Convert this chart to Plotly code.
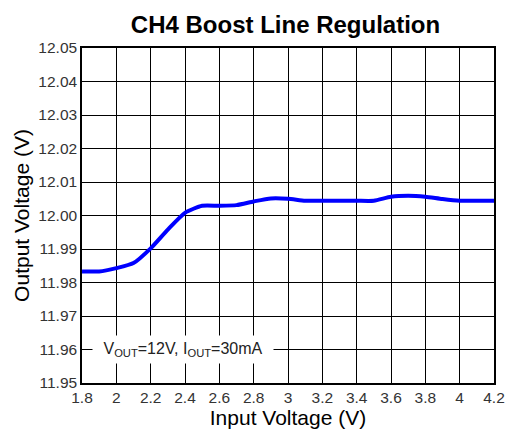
import plotly.graph_objects as go

vin = [1.8, 1.9, 2.0, 2.1, 2.2, 2.3, 2.4, 2.5, 2.6, 2.7, 2.8, 2.9, 3.0, 3.1, 3.2, 3.3, 3.4, 3.5, 3.6, 3.7, 3.8, 3.9, 4.0, 4.1, 4.2]
vout = [11.9833, 11.9833, 11.9843, 11.9858, 11.9902, 11.9958, 12.0008, 12.0029, 12.0029, 12.0031, 12.0042, 12.0051, 12.0050, 12.0044, 12.0044, 12.0044, 12.0044, 12.0044, 12.0056, 12.0059, 12.0056, 12.0049, 12.0044, 12.0044, 12.0044]

x_ticks = [1.8, 2.0, 2.2, 2.4, 2.6, 2.8, 3.0, 3.2, 3.4, 3.6, 3.8, 4.0, 4.2]
x_ticktext = ["1.8", "2", "2.2", "2.4", "2.6", "2.8", "3", "3.2", "3.4", "3.6", "3.8", "4", "4.2"]
y_ticks = [11.95, 11.96, 11.97, 11.98, 11.99, 12.00, 12.01, 12.02, 12.03, 12.04, 12.05]
y_ticktext = ["11.95", "11.96", "11.97", "11.98", "11.99", "12.00", "12.01", "12.02", "12.03", "12.04", "12.05"]

font = "Liberation Sans, Arial, sans-serif"

fig = go.Figure()
fig.add_trace(go.Scatter(x=vin, y=vout, mode="lines",
                         line=dict(color="#0000ff", width=4, shape="spline", smoothing=0.6),
                         showlegend=False, hoverinfo="skip"))

fig.add_annotation(x=2.39, y=11.96, xref="x", yref="y",
                   text="V<sub>OUT</sub>=12V, I<sub>OUT</sub>=30mA",
                   showarrow=False, bgcolor="white", borderpad=4,
                   width=172, height=19, align="center",
                   font=dict(family=font, size=16, color="#222"))

axis_common = dict(showgrid=True, gridcolor="black", gridwidth=1,
                   showline=True, linecolor="black", linewidth=1.5, mirror=True,
                   ticks="", zeroline=False, automargin=False)

fig.update_layout(
    width=506, height=431,
    margin=dict(l=82, r=12, t=48, b=48),
    paper_bgcolor="white", plot_bgcolor="white",
    title=dict(text="<b>CH4 Boost Line Regulation</b>", x=285.5 / 506, xanchor="center",
               y=1 - 25 / 431, yanchor="middle",
               font=dict(family=font, size=24, color="black")),
    xaxis=dict(range=[1.8, 4.2], tickvals=x_ticks, ticktext=x_ticktext,
               tickfont=dict(family=font, size=15.5, color="#333"),
               title=dict(text="Input Voltage (V)", font=dict(family=font, size=21, color="black"),
                          standoff=0),
               **axis_common),
    yaxis=dict(range=[11.95, 12.05], tickvals=y_ticks, ticktext=y_ticktext,
               tickfont=dict(family=font, size=15.5, color="#333"),
               title=dict(text="Output Voltage (V)", font=dict(family=font, size=21, color="black"),
                          standoff=3),
               **axis_common),
)

fig.write_html("out.html", config={"displayModeBar": False},
               post_script="document.body.style.margin='0';document.body.style.overflow='hidden';")
